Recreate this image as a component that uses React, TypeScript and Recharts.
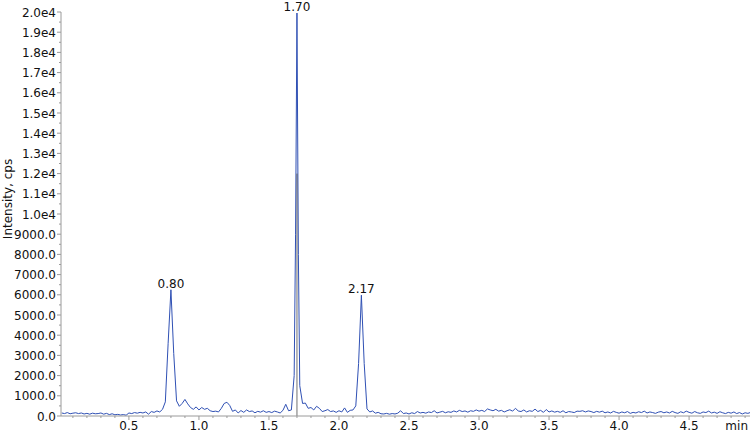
import { LineChart, Line, XAxis, YAxis, LabelList, ReferenceLine } from "recharts";

// retention time (min)
const times = [
  0.02, 0.04, 0.06, 0.08, 0.1, 0.12, 0.14, 0.16, 0.18, 0.2,
  0.22, 0.24, 0.26, 0.28, 0.3, 0.32, 0.34, 0.36, 0.38, 0.4,
  0.42, 0.44, 0.46, 0.48, 0.5, 0.52, 0.54, 0.56, 0.58, 0.6,
  0.62, 0.64, 0.66, 0.68, 0.7, 0.72, 0.74, 0.76, 0.78, 0.8,
  0.82, 0.84, 0.86, 0.88, 0.9, 0.92, 0.94, 0.96, 0.98, 1.0,
  1.02, 1.04, 1.06, 1.08, 1.1, 1.12, 1.14, 1.16, 1.18, 1.2,
  1.22, 1.24, 1.26, 1.28, 1.3, 1.32, 1.34, 1.36, 1.38, 1.4,
  1.42, 1.44, 1.46, 1.48, 1.5, 1.52, 1.54, 1.56, 1.58, 1.6,
  1.62, 1.64, 1.66, 1.68, 1.69, 1.7, 1.71, 1.72, 1.74, 1.76,
  1.78, 1.8, 1.82, 1.84, 1.86, 1.88, 1.9, 1.92, 1.94, 1.96,
  1.98, 2.0, 2.02, 2.04, 2.06, 2.08, 2.1, 2.12, 2.14, 2.16,
  2.18, 2.2, 2.22, 2.24, 2.26, 2.28, 2.3, 2.32, 2.34, 2.36,
  2.38, 2.4, 2.42, 2.44, 2.46, 2.48, 2.5, 2.52, 2.54, 2.56,
  2.58, 2.6, 2.62, 2.64, 2.66, 2.68, 2.7, 2.72, 2.74, 2.76,
  2.78, 2.8, 2.82, 2.84, 2.86, 2.88, 2.9, 2.92, 2.94, 2.96,
  2.98, 3.0, 3.02, 3.04, 3.06, 3.08, 3.1, 3.12, 3.14, 3.16,
  3.18, 3.2, 3.22, 3.24, 3.26, 3.28, 3.3, 3.32, 3.34, 3.36,
  3.38, 3.4, 3.42, 3.44, 3.46, 3.48, 3.5, 3.52, 3.54, 3.56,
  3.58, 3.6, 3.62, 3.64, 3.66, 3.68, 3.7, 3.72, 3.74, 3.76,
  3.78, 3.8, 3.82, 3.84, 3.86, 3.88, 3.9, 3.92, 3.94, 3.96,
  3.98, 4.0, 4.02, 4.04, 4.06, 4.08, 4.1, 4.12, 4.14, 4.16,
  4.18, 4.2, 4.22, 4.24, 4.26, 4.28, 4.3, 4.32, 4.34, 4.36,
  4.38, 4.4, 4.42, 4.44, 4.46, 4.48, 4.5, 4.52, 4.54, 4.56,
  4.58, 4.6, 4.62, 4.64, 4.66, 4.68, 4.7, 4.72, 4.74, 4.76,
  4.78, 4.8, 4.82, 4.84, 4.86, 4.88, 4.9, 4.92, 4.94,
];

// intensity (cps)
const intensity = [
  150, 120, 170, 110, 140, 160, 120, 150, 100, 130,
  90, 140, 110, 120, 150, 90, 130, 70, 110, 60,
  80, 50, 70, 40, 150, 120, 170, 140, 180, 150,
  200, 90, 220, 180, 250, 200, 330, 700, 3600, 6250,
  3100, 750, 480, 620, 820, 600, 420, 330, 450, 300,
  420, 330, 380, 260, 220, 240, 200, 380, 620, 680,
  520, 230, 300, 150, 270, 180, 300, 220, 250, 160,
  230, 190, 260, 180, 220, 170, 240, 200, 150, 280,
  580, 260, 300, 2000, 9000, 19950, 8000, 1500, 620, 640,
  380, 420, 300, 480, 380, 220, 260, 320, 220, 250,
  180, 260, 200, 400, 180, 280, 300, 500, 2600, 5980,
  2600, 350, 200, 250, 140, 180, 110, 100, 130, 90,
  120, 100, 140, 260, 120, 150, 100, 160, 120, 220,
  150, 180, 140, 200, 170, 260, 150, 190, 230, 160,
  210, 180, 250, 200, 280, 220, 250, 190, 260, 230,
  300, 240, 280, 220, 350, 300, 260, 330, 240, 280,
  200, 260, 310, 240, 380, 250, 220, 300, 200, 260,
  230, 340, 220, 280, 180, 320, 200, 250, 190, 230,
  180, 260, 160, 220, 200, 170, 240, 230, 260, 200,
  250, 220, 170, 230, 190, 240, 160, 200, 150, 230,
  180, 140, 200, 160, 220, 130, 180, 150, 210, 170,
  240, 150, 200, 170, 130, 190, 220, 160, 200, 150,
  230, 170, 130, 210, 160, 240, 180, 140, 220, 160,
  130, 200, 170, 240, 150, 190, 130, 210, 160, 120,
  180, 140, 200, 120, 170, 100, 160, 130, 180,
];

const peakTimes = [0.8, 1.7, 2.16];
const peakLabels = ["0.80", "1.70", "2.17"];

const xTicks = [
  0.1, 0.2, 0.3, 0.4, 0.5, 0.6, 0.7, 0.8, 0.9, 1.0,
  1.1, 1.2, 1.3, 1.4, 1.5, 1.6, 1.7, 1.8, 1.9, 2.0,
  2.1, 2.2, 2.3, 2.4, 2.5, 2.6, 2.7, 2.8, 2.9, 3.0,
  3.1, 3.2, 3.3, 3.4, 3.5, 3.6, 3.7, 3.8, 3.9, 4.0,
  4.1, 4.2, 4.3, 4.4, 4.5, 4.6, 4.7, 4.8, 4.9,
];

const yTicks = [
  0, 500, 1000, 1500, 2000, 2500, 3000, 3500, 4000, 4500,
  5000, 5500, 6000, 6500, 7000, 7500, 8000, 8500, 9000, 9500,
  10000, 10500, 11000, 11500, 12000, 12500, 13000, 13500, 14000, 14500,
  15000, 15500, 16000, 16500, 17000, 17500, 18000, 18500, 19000, 19500,
  20000,
];

const data = times.map((t, i) => {
  const p = peakTimes.indexOf(t);
  return { t, v: intensity[i], peak: p >= 0 ? peakLabels[p] : null };
});

const FONT = "'DejaVu Sans', Verdana, sans-serif";
const AXIS = "#9a9a9a";
const TRACE = "#2f50b4";

const fmtY = (v: number) => (v >= 10000 ? (v / 10000).toFixed(1) + "e4" : v.toFixed(1));

// y ticks: labelled every 1000, short minor mark every 500
const YTick = (props: any) => {
  const { x, y, payload } = props;
  const v = payload.value as number;
  const major = v % 1000 === 0;
  return (
    <g>
      <line x1={x + (major ? 0 : 2)} x2={x + 4} y1={y} y2={y} stroke={AXIS} />
      {major && (
        <text x={x - 1} y={y} dy={4.5} textAnchor="end" fontSize={12} fontFamily={FONT} fill="#111">
          {fmtY(v)}
        </text>
      )}
    </g>
  );
};

// x ticks: labelled every 0.5 min, minor mark every 0.1 min
const XTick = (props: any) => {
  const { x, y, payload } = props;
  const v = payload.value as number;
  const major = Math.round(v * 10) % 5 === 0;
  return (
    <g>
      <line x1={x} x2={x} y1={y - 4} y2={y - (major ? 0 : 2)} stroke={AXIS} />
      {major && (
        <text x={x} y={y + 9.5} textAnchor="middle" fontSize={12} fontFamily={FONT} fill="#111">
          {v.toFixed(1)}
        </text>
      )}
    </g>
  );
};

const renderPeak = (props: any) => {
  const { x, y, value } = props;
  if (!value) return null;
  return (
    <text x={x} y={y - 2} textAnchor="middle" fontSize={12} fontFamily={FONT} fill="#111">
      {value}
    </text>
  );
};

const renderMin = (props: any) => {
  const vb = props.viewBox;
  return (
    <text x={vb.x + vb.width - 2} y={vb.y + 13.5} textAnchor="end" fontSize={12} fontFamily={FONT} fill="#111">
      min
    </text>
  );
};

const renderYLabel = (props: any) => {
  const vb = props.viewBox;
  const cy = vb.y + vb.height / 2 - 15;
  return (
    <text
      x={0}
      y={0}
      transform={`translate(${vb.x + 12}, ${cy}) rotate(-90)`}
      textAnchor="middle"
      fontSize={12}
      fontFamily={FONT}
      fill="#111"
    >
      Intensity, cps
    </text>
  );
};

export default function App() {
  return (
    <div style={{ position: "absolute", left: 0, top: 0, width: 750, height: 432, background: "#fff" }}>
      <LineChart width={750} height={432} data={data} margin={{ top: 12, right: 0, bottom: 0, left: 0 }}>
        <XAxis
          dataKey="t"
          type="number"
          domain={[0.015, 4.935]}
          allowDataOverflow
          ticks={xTicks}
          interval={0}
          tick={<XTick />}
          tickLine={false}
          tickSize={4}
          tickMargin={0}
          axisLine={{ stroke: AXIS }}
          height={16}
          label={{ content: renderMin }}
        />
        <YAxis
          type="number"
          domain={[0, 20000]}
          allowDataOverflow
          ticks={yTicks}
          interval={0}
          tick={<YTick />}
          tickLine={false}
          tickSize={4}
          tickMargin={0}
          axisLine={{ stroke: AXIS }}
          width={61}
          label={{ content: renderYLabel }}
        />
        <Line
          type="linear"
          dataKey="v"
          stroke={TRACE}
          strokeWidth={1}
          dot={false}
          isAnimationActive={false}
        >
          <LabelList dataKey="peak" content={renderPeak} />
        </Line>
        <ReferenceLine
          segment={[
            { x: 1.7, y: 0 },
            { x: 1.7, y: 12000 },
          ]}
          stroke="#333"
          strokeWidth={0.7}
        />
      </LineChart>
    </div>
  );
}
